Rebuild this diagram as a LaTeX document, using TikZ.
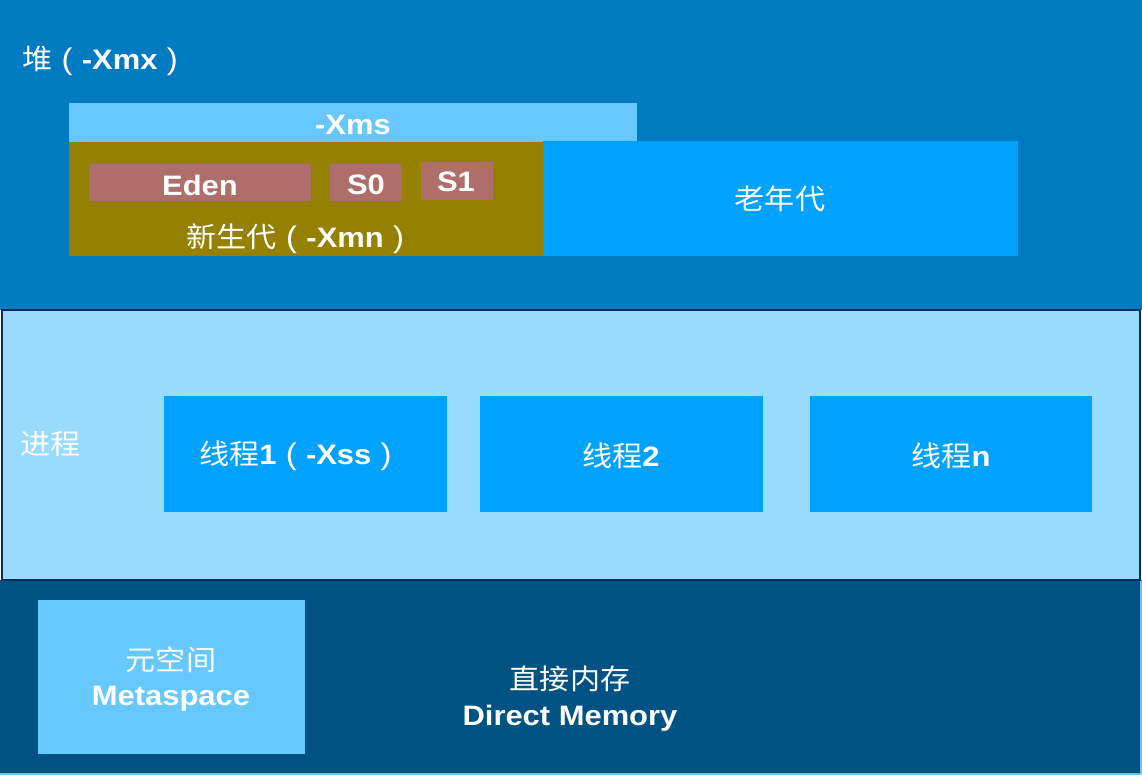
\documentclass[tikz,border=0pt]{standalone}
\usepackage{fontspec}
\setmainfont{Liberation Sans}[FakeStretch=1.1]
\newfontfamily\cjk{Noto Sans CJK SC}[FakeStretch=1.07]
\newcommand\lpar{\makebox[1.05em]{\mdseries\fontsize{17}{19}\selectfont(}}
\newcommand\rpar{\makebox[1.05em]{\mdseries\fontsize{17}{19}\selectfont)}}
\definecolor{heapc}{HTML}{007AC0}
\definecolor{procc}{HTML}{99DAFF}
\definecolor{nativec}{HTML}{005282}
\definecolor{lightc}{HTML}{66C8FF}
\definecolor{youngc}{HTML}{958000}
\definecolor{oldc}{HTML}{00A2FF}
\definecolor{edenc}{HTML}{AE6E69}
\definecolor{navyc}{HTML}{0A2A5A}
\tikzset{
  px/.style={x=0.02cm,y=-0.02cm},
  lbl/.style={text=white,font=\fontsize{16}{19}\selectfont,inner sep=0pt},
  blbl/.style={text=white,font=\fontsize{16}{19}\selectfont\bfseries,inner sep=0pt},
}
\begin{document}
\begin{tikzpicture}[px]
\useasboundingbox (0,0) rectangle (1142,775);
% regions
\fill[heapc] (0,0) rectangle (1142,310);
\fill[procc,draw=navyc,line width=0.6pt] (2,310) rectangle (1140,580);
\fill[nativec] (0,580) rectangle (1142,775);
\draw[lightc,line width=1.2pt] (0,774) -- (1141,774) -- (1141,581);
\draw[navyc,line width=0.8pt] (2,310) -- (1140,310);
\draw[navyc,line width=0.8pt] (2,580) -- (1140,580);
% heap
\node[lbl,anchor=west] (heap) at (22,61) {{\cjk 堆}\lpar\textbf{-Xmx}\rpar};
\fill[lightc] (69,103) rectangle (637,142);
\node[blbl] (xms) at (353,125) {-Xms};
\fill[youngc] (69,142) rectangle (543,256);
\fill[oldc] (543,141) rectangle (1018,256);
\node[lbl] (old) at (780,199) {\cjk 老年代};
\fill[edenc] (89,164) rectangle (311,201);
\node[blbl] (eden) at (200,185) {Eden};
\fill[edenc] (330,164) rectangle (402,201);
\node[blbl] (s0) at (366,185) {S0};
\fill[edenc] (421,162) rectangle (493,200);
\node[blbl] (s1) at (456,182) {S1};
\node[lbl] (young) at (300,239) {{\cjk 新生代}\lpar\textbf{-Xmn}\rpar};
% process
\node[lbl,anchor=west] (proc) at (20,444) {\cjk 进程};
\fill[oldc] (164,396) rectangle (447,512);
\node[lbl] (t1) at (300,456) {{\cjk 线程}\textbf{1}\lpar\textbf{-Xss}\rpar};
\fill[oldc] (480,396) rectangle (763,512);
\node[lbl] (t2) at (621,456) {{\cjk 线程}\textbf{2}};
\fill[oldc] (810,396) rectangle (1092,512);
\node[lbl] (tn) at (951,456) {{\cjk 线程}\textbf{n}};
% native
\fill[lightc] (38,600) rectangle (305,754);
\node[lbl] (meta1) at (171,660) {\cjk 元空间};
\node[blbl] (meta2) at (171,699) {Metaspace};
\node[lbl] (dm1) at (570,679) {\cjk 直接内存};
\node[blbl] (dm2) at (570,718) {Direct Memory};
\end{tikzpicture}
\end{document}
